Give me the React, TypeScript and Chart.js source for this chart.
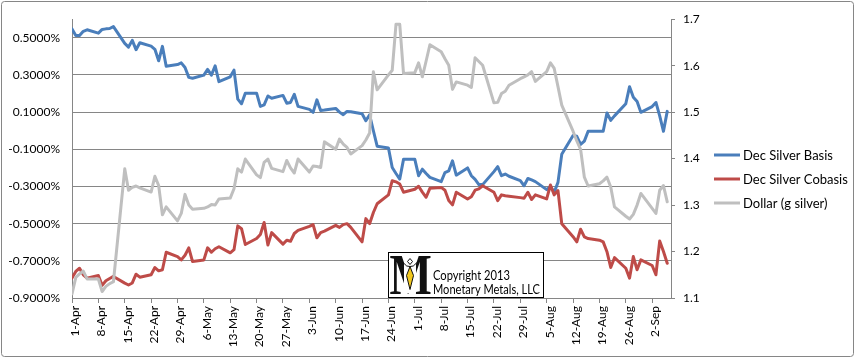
import { useEffect, useRef } from "react";
import { Chart, registerables } from "chart.js";

Chart.register(...registerables);

// trading days, counted in days since 1-Apr-2013
const tradingDays = [
  0, 1, 2, 3, 4, 7, 8, 9, 10, 11, 14, 15, 16, 17, 18, 21, 22, 23, 24, 25,
  28, 29, 30, 31, 32, 35, 36, 37, 38, 39, 42, 43, 44, 45, 46, 49, 50, 51, 52, 53,
  56, 57, 58, 59, 60, 63, 64, 65, 66, 67, 70, 71, 72, 73, 74, 77, 78, 79, 80, 81,
  84, 85, 86, 87, 88, 91, 92, 93, 94, 95, 98, 99, 100, 101, 102, 105, 106, 107, 108, 109,
  112, 113, 114, 115, 116, 119, 120, 121, 122, 123, 126, 127, 128, 129, 130,
  133, 134, 135, 136, 137, 140, 141, 142, 143, 144, 147, 148, 149, 150, 151,
  154, 155, 156, 157, 158,
];

// Dec Silver Basis (%)
const basis = [
  0.548, 0.512, 0.512, 0.535, 0.543, 0.525, 0.545, 0.548, 0.55, 0.56,
  0.47, 0.45, 0.486, 0.436, 0.473, 0.455, 0.438, 0.376, 0.454, 0.347,
  0.356, 0.365, 0.34, 0.287, 0.282, 0.299, 0.33, 0.299, 0.349, 0.264,
  0.29, 0.326, 0.17, 0.145, 0.202, 0.202, 0.131, 0.139, 0.187, 0.175,
  0.19, 0.148, 0.152, 0.196, 0.131, 0.115, 0.099, 0.166, 0.109, 0.111,
  0.12, 0.1, 0.086, 0.104, 0.102, 0.091, 0.054, 0.086, 0.0, -0.083,
  -0.093, -0.198, -0.23, -0.26, -0.154, -0.154, -0.242, -0.207, -0.23, -0.251,
  -0.274, -0.225, -0.216, -0.162, -0.239, -0.2, -0.242, -0.262, -0.29, -0.29,
  -0.22, -0.193, -0.242, -0.233, -0.245, -0.269, -0.296, -0.257, -0.265, -0.274,
  -0.317, -0.3, -0.331, -0.278, -0.127, -0.026, -0.03, -0.074, -0.056, -0.003,
  -0.003, -0.003, 0.095, 0.056, 0.08, 0.145, 0.237, 0.18, 0.157, 0.099,
  0.13, 0.152, 0.08, -0.003, 0.104,
];

// Dec Silver Cobasis (%)
const cobasis = [
  -0.793, -0.757, -0.74, -0.775, -0.793, -0.779, -0.832, -0.807, -0.795, -0.784,
  -0.82, -0.83, -0.819, -0.772, -0.788, -0.775, -0.736, -0.754, -0.748, -0.654,
  -0.677, -0.695, -0.67, -0.63, -0.704, -0.695, -0.63, -0.654, -0.635, -0.624,
  -0.657, -0.64, -0.512, -0.527, -0.612, -0.58, -0.558, -0.494, -0.615, -0.548,
  -0.61, -0.589, -0.595, -0.553, -0.536, -0.515, -0.505, -0.576, -0.548, -0.54,
  -0.509, -0.52, -0.505, -0.5, -0.52, -0.598, -0.473, -0.5, -0.44, -0.393,
  -0.345, -0.269, -0.275, -0.287, -0.331, -0.315, -0.299, -0.33, -0.358, -0.31,
  -0.305, -0.32, -0.376, -0.399, -0.331, -0.367, -0.355, -0.32, -0.313, -0.296,
  -0.331, -0.376, -0.345, -0.35, -0.352, -0.36, -0.363, -0.331, -0.37, -0.345,
  -0.367, -0.292, -0.345, -0.322, -0.5, -0.57, -0.598, -0.53, -0.571, -0.58,
  -0.589, -0.598, -0.651, -0.736, -0.683, -0.74, -0.793, -0.677, -0.748, -0.695,
  -0.725, -0.775, -0.593, -0.65, -0.713,
];

// Dollar (g silver), right axis
const dollar = [
  1.109, 1.144, 1.152, 1.158, 1.141, 1.141, 1.114, 1.125, 1.131, 1.135,
  1.378, 1.332, 1.338, 1.341, 1.337, 1.328, 1.362, 1.342, 1.279, 1.296,
  1.266, 1.282, 1.323, 1.3, 1.291, 1.293, 1.296, 1.301, 1.3, 1.313,
  1.315, 1.335, 1.378, 1.371, 1.399, 1.365, 1.359, 1.392, 1.399, 1.379,
  1.372, 1.396, 1.38, 1.369, 1.399, 1.371, 1.384, 1.383, 1.381, 1.436,
  1.42, 1.442, 1.431, 1.424, 1.41, 1.428, 1.44, 1.455, 1.587, 1.548,
  1.58, 1.59, 1.689, 1.689, 1.583, 1.585, 1.606, 1.576, 1.61, 1.645,
  1.63, 1.615, 1.601, 1.549, 1.565, 1.558, 1.553, 1.617, 1.609, 1.601,
  1.52, 1.521, 1.54, 1.545, 1.558, 1.572, 1.576, 1.58, 1.587, 1.566,
  1.587, 1.606, 1.594, 1.555, 1.515, 1.459, 1.438, 1.42, 1.36, 1.341,
  1.346, 1.352, 1.36, 1.339, 1.296, 1.276, 1.27, 1.28, 1.3, 1.325,
  1.293, 1.282, 1.332, 1.342, 1.307,
];

const xTickDays = [0, 7, 14, 21, 28, 35, 42, 49, 56, 63, 70, 77, 84, 91, 98, 105, 112, 119, 126, 133, 140, 147, 154];
const xTickLabels = [
  "1-Apr", "8-Apr", "15-Apr", "22-Apr", "29-Apr", "6-May", "13-May", "20-May", "27-May",
  "3-Jun", "10-Jun", "17-Jun", "24-Jun", "1-Jul", "8-Jul", "15-Jul", "22-Jul", "29-Jul",
  "5-Aug", "12-Aug", "19-Aug", "26-Aug", "2-Sep",
];
const leftTicks = [-0.9, -0.7, -0.5, -0.3, -0.1, 0.1, 0.3, 0.5];
const rightTicks = [1.1, 1.2, 1.3, 1.4, 1.5, 1.6, 1.7];
const seriesNames = ["Dec Silver Basis", "Dec Silver Cobasis", "Dollar (g silver)"];
const seriesColors = ["#4a7ebb", "#be4b48", "#bfbfbf"];
const copyrightLines = ["Copyright 2013", "Monetary Metals, LLC"];

const FONT = "Lato, 'Open Sans', sans-serif";
const GRID = "#868686";

const framePlugin = {
  id: "frame",
  beforeDraw(chart: any) {
    const ctx = chart.ctx;
    ctx.save();
    ctx.fillStyle = "#ffffff";
    ctx.fillRect(0, 0, chart.width, chart.height);
    ctx.strokeStyle = GRID;
    ctx.lineWidth = 1;
    ctx.beginPath();
    (ctx as any).roundRect(1.5, 1.5, chart.width - 3, chart.height - 3, 3);
    ctx.stroke();
    ctx.restore();
  },
  afterDraw(chart: any) {
    const ctx = chart.ctx;
    const area = chart.chartArea;
    ctx.save();
    // legend
    const lx = area.right + 43;
    const ly = 155;
    ctx.font = `13px ${FONT}`;
    ctx.textBaseline = "middle";
    ctx.textAlign = "left";
    chart.data.datasets.forEach((ds: any, i: number) => {
      const y = ly + i * 24;
      ctx.strokeStyle = ds.borderColor;
      ctx.lineWidth = 3;
      ctx.beginPath();
      ctx.moveTo(lx, y);
      ctx.lineTo(lx + 26, y);
      ctx.stroke();
      ctx.fillStyle = "#000";
      ctx.fillText(ds.label, lx + 29, y + 1);
    });

    // logo box
    const bx = area.left + 316.5;
    const bw = 155;
    const bh = 45;
    const by = area.bottom - bh - 0.5;
    ctx.fillStyle = "#fff";
    ctx.fillRect(bx, by, bw, bh);
    ctx.strokeStyle = "#000";
    ctx.lineWidth = 1;
    ctx.strokeRect(bx, by, bw, bh);
    // big serif M
    ctx.save();
    ctx.translate(bx + 1, by + 41);
    ctx.scale(0.8, 1);
    ctx.fillStyle = "#111";
    ctx.font = `bold 56px 'Liberation Serif', 'DejaVu Serif', serif`;
    ctx.textBaseline = "alphabetic";
    ctx.fillText("M", 0, 0);
    ctx.restore();
    // small figure in the M
    const fx = bx + 21.5;
    const fy = by + 6;
    ctx.fillStyle = "#fff";
    ctx.fillRect(fx - 6, fy + 1, 12, 34);
    ctx.strokeStyle = "#111";
    ctx.lineWidth = 1;
    ctx.beginPath();
    ctx.moveTo(fx, fy);
    ctx.lineTo(fx + 2.5, fy + 3);
    ctx.lineTo(fx, fy + 6);
    ctx.lineTo(fx - 2.5, fy + 3);
    ctx.closePath();
    ctx.stroke();
    ctx.beginPath();
    ctx.moveTo(fx, fy + 8);
    ctx.lineTo(fx + 3.5, fy + 17);
    ctx.lineTo(fx, fy + 31);
    ctx.lineTo(fx - 3.5, fy + 17);
    ctx.closePath();
    ctx.fillStyle = "#f2c81e";
    ctx.fill();
    ctx.stroke();
    ctx.beginPath();
    ctx.moveTo(fx - 7, fy + 4);
    ctx.quadraticCurveTo(fx - 3, fy + 9, fx, fy + 8);
    ctx.quadraticCurveTo(fx + 3, fy + 9, fx + 7, fy + 4);
    ctx.stroke();
    // copyright text
    ctx.fillStyle = "#000";
    ctx.font = `14px ${FONT}`;
    ctx.textAlign = "left";
    ctx.textBaseline = "alphabetic";
    ctx.fillText(copyrightLines[0], bx + 44.5, by + 27, 77);
    ctx.fillText(copyrightLines[1], bx + 44.5, by + 41, 107);
    ctx.restore();
  },
};

export default function App() {
  const ref = useRef<HTMLCanvasElement | null>(null);

  useEffect(() => {
    if (!ref.current) return;
    const toPoints = (vals: number[]) => tradingDays.map((d, i) => ({ x: d, y: vals[i] }));
    const tickFont = { family: FONT, size: 12 };
    const chart = new Chart(ref.current, {
      type: "line",
      data: {
        datasets: [
          { label: seriesNames[0], data: toPoints(basis), borderColor: seriesColors[0], yAxisID: "y", order: 3 },
          { label: seriesNames[1], data: toPoints(cobasis), borderColor: seriesColors[1], yAxisID: "y", order: 2 },
          { label: seriesNames[2], data: toPoints(dollar), borderColor: seriesColors[2], yAxisID: "y2", order: 1 },
        ],
      },
      options: {
        animation: false,
        responsive: false,
        devicePixelRatio: 1,
        events: [],
        layout: { padding: { top: 15, left: 0, right: 144, bottom: 0 } },
        elements: {
          line: { borderWidth: 3, tension: 0, borderJoinStyle: "round", borderCapStyle: "round", fill: false },
          point: { radius: 0 },
        },
        plugins: { legend: { display: false }, tooltip: { enabled: false } },
        scales: {
          x: {
            type: "linear",
            position: "bottom",
            min: 0,
            max: 159,
            afterBuildTicks: (s: any) => {
              s.ticks = xTickDays.map((v) => ({ value: v }));
            },
            afterFit: (s: any) => {
              s.height = 60;
            },
            ticks: {
              autoSkip: false,
              maxRotation: 90,
              minRotation: 90,
              padding: 3,
              labelOffset: 3,
              color: "#000",
              font: tickFont,
              callback: (_v: any, i: number) => xTickLabels[i],
            },
            grid: { drawOnChartArea: false, drawTicks: true, tickLength: 5, color: GRID },
            border: { display: true, color: GRID },
          },
          y: {
            type: "linear",
            position: "left",
            min: -0.9,
            max: 0.6,
            afterBuildTicks: (s: any) => {
              s.ticks = leftTicks.map((v) => ({ value: v }));
            },
            afterFit: (s: any) => {
              s.width = 72;
            },
            ticks: {
              padding: 12,
              color: "#000",
              font: tickFont,
              callback: (v: any) => Number(v).toFixed(4) + "%",
            },
            grid: { drawTicks: false, color: GRID },
            border: { display: true, color: GRID },
          },
          y2: {
            type: "linear",
            position: "right",
            min: 1.1,
            max: 1.7,
            afterBuildTicks: (s: any) => {
              s.ticks = rightTicks.map((v) => ({ value: v }));
            },
            afterFit: (s: any) => {
              s.width = 40;
            },
            ticks: {
              padding: 8,
              color: "#000",
              font: tickFont,
              callback: (v: any) => Number(v).toFixed(1),
            },
            grid: { drawOnChartArea: false, drawTicks: true, tickLength: 4, color: GRID },
            border: { display: true, color: GRID },
          },
        },
      },
      plugins: [framePlugin],
    } as any);
    return () => chart.destroy();
  }, []);

  return (
    <div style={{ position: "fixed", left: 0, top: 0, width: 855, height: 358 }}>
      <canvas ref={ref} width={855} height={358} style={{ display: "block", width: 855, height: 358 }} />
    </div>
  );
}
